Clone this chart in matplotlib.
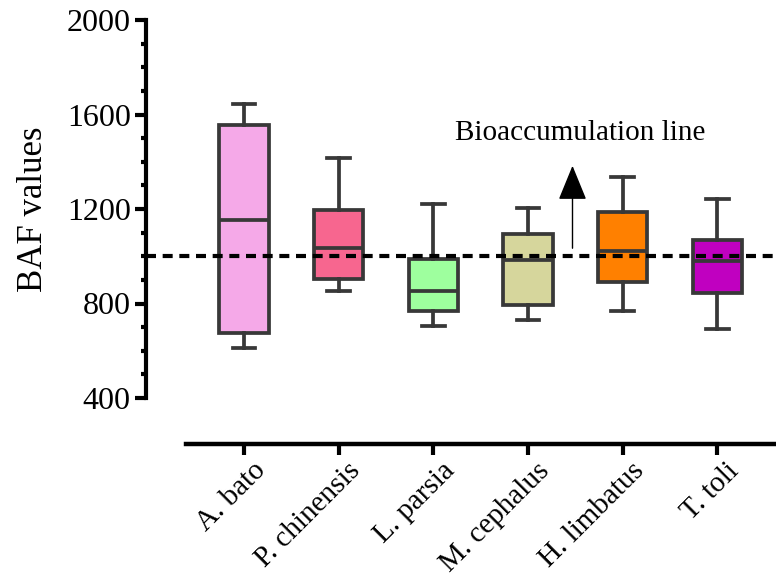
import matplotlib
matplotlib.use("Agg")
import matplotlib.pyplot as plt
import matplotlib.transforms as mtransforms
from matplotlib.ticker import MultipleLocator

plt.rcParams['font.family'] = ['Liberation Serif', 'DejaVu Serif']

# values
species = ['A. bato', 'P. chinensis', 'L. parsia', 'M. cephalus', 'H. limbatus', 'T. toli']
whislo = [612, 855, 703, 731, 769, 692]
q1 = [675, 903, 769, 795, 889, 844]
med = [1154, 1034, 854, 985, 1024, 978]
q3 = [1556, 1194, 989, 1094, 1188, 1070]
whishi = [1645, 1415, 1222, 1204, 1335, 1242]
colors = ['#F5A9E8', '#F7668F', '#9EFF9E', '#D6D69C', '#FF8000', '#C000C0']
threshold = 1000

fig = plt.figure(figsize=(7.76, 5.86), dpi=100)
ax = fig.add_axes([146/776, 1 - 398/586, 1 - 146/776, (398 - 20)/586])

stats = []
for i in range(len(species)):
    stats.append(dict(label=species[i], whislo=whislo[i], q1=q1[i], med=med[i],
                      q3=q3[i], whishi=whishi[i], fliers=[]))

edge = '#383838'
lw = 2.7
bp = ax.bxp(stats, positions=range(len(species)), widths=0.52, capwidths=0.24,
            patch_artist=True, showfliers=False,
            boxprops=dict(edgecolor=edge, linewidth=lw),
            medianprops=dict(color=edge, linewidth=lw),
            whiskerprops=dict(color=edge, linewidth=lw),
            capprops=dict(color=edge, linewidth=lw))
for patch, c in zip(bp['boxes'], colors):
    patch.set_facecolor(c)

# bioaccumulation line
ax.axhline(threshold, color='black', lw=3, linestyle=(0, (2.4, 1.6)), zorder=5)
ax.text(2.23, 1492, 'Bioaccumulation line', fontsize=21, ha='left', va='baseline')
ax.annotate('', xy=(3.47, 1383), xytext=(3.47, 1034),
            arrowprops=dict(arrowstyle='-|>,head_length=1.1,head_width=0.45',
                            mutation_scale=20, lw=1, color='black',
                            shrinkA=0, shrinkB=0))

ax.set_xlim(-1.036, 5.62)
ax.set_ylim(400, 2000)
ax.yaxis.set_major_locator(MultipleLocator(400))
ax.yaxis.set_minor_locator(MultipleLocator(100))

for s in ['top', 'right']:
    ax.spines[s].set_visible(False)
ax.spines['left'].set_linewidth(3)
ax.spines['bottom'].set_linewidth(3.2)
ax.spines['bottom'].set_position(('outward', 33))
ax.spines['bottom'].set_bounds(-0.613, 5.62)

ax.tick_params(axis='y', which='major', length=8, width=3, labelsize=23, pad=3)
ax.tick_params(axis='y', which='minor', length=3.5, width=3)
ax.tick_params(axis='x', length=8, width=3, labelsize=21, pad=2)
ax.set_xticks(range(len(species)))
ax.set_xticklabels(species, rotation=45, ha='right', rotation_mode='anchor')
# nudge labels a little to the right, like the original
shift = mtransforms.ScaledTranslation(8/100, 0, fig.dpi_scale_trans)
for lab in ax.get_xticklabels():
    lab.set_transform(lab.get_transform() + shift)

ax.set_ylabel('BAF values', fontsize=25, labelpad=12)

fig.savefig('out.png', dpi=100)
